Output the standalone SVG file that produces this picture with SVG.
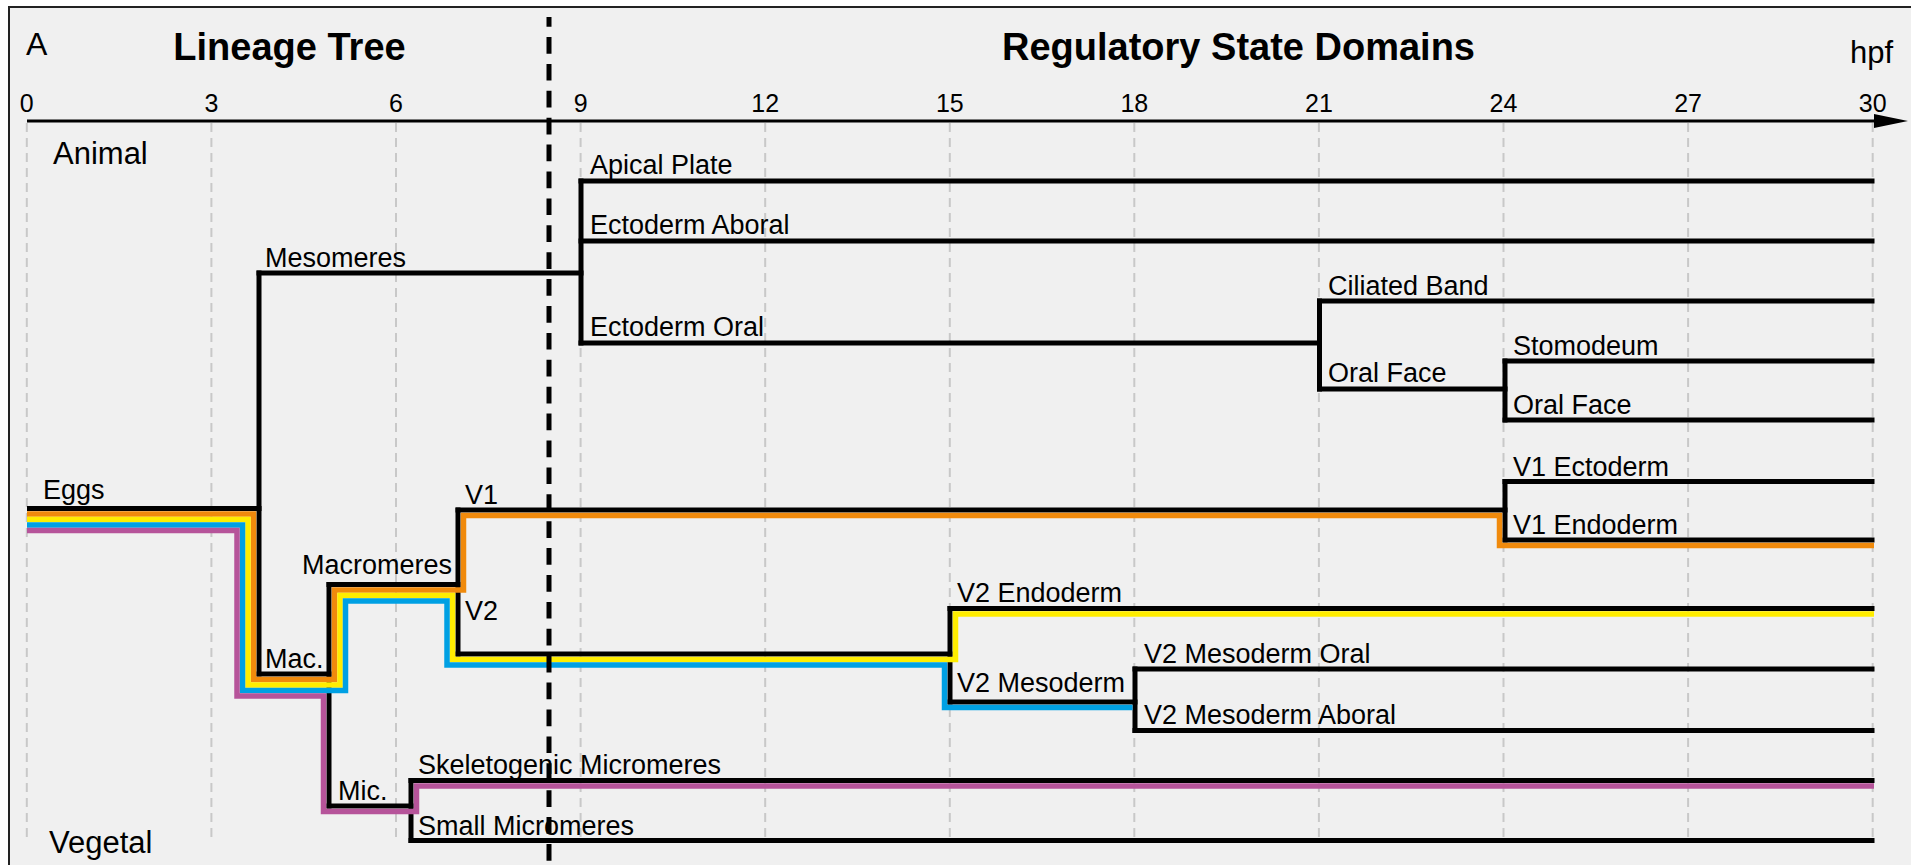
<svg xmlns="http://www.w3.org/2000/svg" width="1911" height="865" viewBox="0 0 1911 865">
<style>
.grid{stroke:#c8c8c8;stroke-width:2;stroke-dasharray:9 6;fill:none}
.br{stroke:#000;stroke-width:5;stroke-linecap:square;fill:none}
.hl{fill:none;stroke-width:5.5;stroke-linejoin:miter;stroke-linecap:butt}
text{font-family:"Liberation Sans",Arial,Helvetica,sans-serif;fill:#000}
.lbl{font-size:27px}
.tick{font-size:25px;text-anchor:middle}
.title{font-size:38px;font-weight:bold;text-anchor:middle}
.big{font-size:31px}
.panel{font-size:32px}
</style>
<defs>
<marker id="arrow" markerWidth="34" markerHeight="14" refX="0" refY="7" orient="auto" markerUnits="userSpaceOnUse">
<polygon points="0,0 34,7 0,14" fill="#000"/>
</marker>
</defs>
<rect x="0" y="0" width="1911" height="865" fill="#fff"/>
<rect x="9" y="7" width="1920" height="900" fill="#f0f0f0" stroke="#222" stroke-width="2"/>

<g id="grid">
<line class="grid" x1="26.8" y1="123" x2="26.8" y2="843"/>
<line class="grid" x1="211.4" y1="123" x2="211.4" y2="843"/>
<line class="grid" x1="396" y1="123" x2="396" y2="843"/>
<line class="grid" x1="580.6" y1="123" x2="580.6" y2="843"/>
<line class="grid" x1="765.2" y1="123" x2="765.2" y2="843"/>
<line class="grid" x1="949.8" y1="123" x2="949.8" y2="843"/>
<line class="grid" x1="1134.3" y1="123" x2="1134.3" y2="843"/>
<line class="grid" x1="1318.9" y1="123" x2="1318.9" y2="843"/>
<line class="grid" x1="1503.5" y1="123" x2="1503.5" y2="843"/>
<line class="grid" x1="1688.1" y1="123" x2="1688.1" y2="843"/>
<line class="grid" x1="1872.7" y1="123" x2="1872.7" y2="843"/>
</g>

<g id="axis">
<line x1="27" y1="121" x2="1874" y2="121" stroke="#000" stroke-width="3" marker-end="url(#arrow)"/>
<text class="tick" x="26.8" y="112">0</text>
<text class="tick" x="211.4" y="112">3</text>
<text class="tick" x="396" y="112">6</text>
<text class="tick" x="580.6" y="112">9</text>
<text class="tick" x="765.2" y="112">12</text>
<text class="tick" x="949.8" y="112">15</text>
<text class="tick" x="1134.3" y="112">18</text>
<text class="tick" x="1318.9" y="112">21</text>
<text class="tick" x="1503.5" y="112">24</text>
<text class="tick" x="1688.1" y="112">27</text>
<text class="tick" x="1872.7" y="112">30</text>
<text class="big" x="1850" y="63">hpf</text>
</g>

<g id="headings">
<text class="panel" x="26" y="55">A</text>
<text class="title" x="289.5" y="60">Lineage Tree</text>
<text class="title" x="1238.5" y="60">Regulatory State Domains</text>
<text class="big" x="53" y="164">Animal</text>
<text class="big" x="49" y="853">Vegetal</text>
</g>

<g id="connectors">
<line class="br" x1="259" y1="273" x2="259" y2="674"/>
<line class="br" x1="581" y1="181" x2="581" y2="343"/>
<line class="br" x1="1319.5" y1="301" x2="1319.5" y2="389"/>
<line class="br" x1="1505" y1="361" x2="1505" y2="420"/>
<line class="br" x1="1505" y1="481.5" x2="1505" y2="540"/>
<line class="br" x1="329" y1="584.5" x2="329" y2="806"/>
<line class="br" x1="458" y1="510" x2="458" y2="654"/>
<line class="br" x1="950" y1="608.5" x2="950" y2="702"/>
<line class="br" x1="1135" y1="669" x2="1135" y2="730.5"/>
<line class="br" x1="411" y1="780.5" x2="411" y2="840.5"/>
</g>

<g id="node-eggs"><line class="br" x1="29.5" y1="508.5" x2="259" y2="508.5"/><text class="lbl" x="43" y="499">Eggs</text></g>
<g id="node-mesomeres"><line class="br" x1="259" y1="273" x2="581" y2="273"/><text class="lbl" x="265" y="266.5">Mesomeres</text></g>
<g id="node-apical-plate"><line class="br" x1="581" y1="181" x2="1872" y2="181"/><text class="lbl" x="590" y="174">Apical Plate</text></g>
<g id="node-ectoderm-aboral"><line class="br" x1="581" y1="241" x2="1872" y2="241"/><text class="lbl" x="590" y="234">Ectoderm Aboral</text></g>
<g id="node-ectoderm-oral"><line class="br" x1="581" y1="343" x2="1319.5" y2="343"/><text class="lbl" x="590" y="336">Ectoderm Oral</text></g>
<g id="node-ciliated-band"><line class="br" x1="1319.5" y1="301" x2="1872" y2="301"/><text class="lbl" x="1328" y="294.5">Ciliated Band</text></g>
<g id="node-oral-face-1"><line class="br" x1="1319.5" y1="389" x2="1505" y2="389"/><text class="lbl" x="1328" y="382">Oral Face</text></g>
<g id="node-stomodeum"><line class="br" x1="1505" y1="361" x2="1872" y2="361"/><text class="lbl" x="1513" y="355">Stomodeum</text></g>
<g id="node-oral-face-2"><line class="br" x1="1505" y1="420" x2="1872" y2="420"/><text class="lbl" x="1513" y="413.5">Oral Face</text></g>
<g id="node-mac"><line class="br" x1="259" y1="674" x2="329" y2="674"/><text class="lbl" x="265" y="668">Mac.</text></g>
<g id="node-macromeres"><line class="br" x1="329" y1="584.5" x2="458" y2="584.5"/><text class="lbl" x="302" y="574">Macromeres</text></g>
<g id="node-v1"><line class="br" x1="458" y1="510" x2="1505" y2="510"/><text class="lbl" x="465" y="504">V1</text></g>
<g id="node-v1-ectoderm"><line class="br" x1="1505" y1="481.5" x2="1872" y2="481.5"/><text class="lbl" x="1513" y="475.5">V1 Ectoderm</text></g>
<g id="node-v1-endoderm"><line class="br" x1="1505" y1="540" x2="1872" y2="540"/><text class="lbl" x="1513" y="534">V1 Endoderm</text></g>
<g id="node-v2"><line class="br" x1="458" y1="654" x2="950" y2="654"/><text class="lbl" x="465" y="620">V2</text></g>
<g id="node-v2-endoderm"><line class="br" x1="950" y1="608.5" x2="1872" y2="608.5"/><text class="lbl" x="957" y="602">V2 Endoderm</text></g>
<g id="node-v2-mesoderm"><line class="br" x1="950" y1="702" x2="1135" y2="702"/><text class="lbl" x="957" y="692">V2 Mesoderm</text></g>
<g id="node-v2-mesoderm-oral"><line class="br" x1="1135" y1="669" x2="1872" y2="669"/><text class="lbl" x="1144" y="663">V2 Mesoderm Oral</text></g>
<g id="node-v2-mesoderm-aboral"><line class="br" x1="1135" y1="730.5" x2="1872" y2="730.5"/><text class="lbl" x="1144" y="724">V2 Mesoderm Aboral</text></g>
<g id="node-mic"><line class="br" x1="329" y1="806" x2="411" y2="806"/><text class="lbl" x="338" y="800">Mic.</text></g>
<g id="node-skeletogenic"><line class="br" x1="411" y1="780.5" x2="1872" y2="780.5"/><text class="lbl" x="418" y="773.5">Skeletogenic Micromeres</text></g>
<g id="node-small-micromeres"><line class="br" x1="411" y1="840.5" x2="1872" y2="840.5"/><text class="lbl" x="418" y="834.5">Small Micromeres</text></g>

<g id="lineage-highlights">
<path class="hl" stroke="#f08a0c" d="M27,514 H253.5 V679.5 H334.5 V590 H463.5 V515.5 H1499.5 V545.5 H1874"/>
<path class="hl" stroke="#ffed00" d="M27,519.5 H248 V685 H340 V595.5 H452.5 V659.5 H955.5 V614 H1874"/>
<path class="hl" stroke="#00a0e3" d="M27,525 H242.5 V690.5 H345.5 V601 H447 V665 H944.5 V707.5 H1132.5"/>
<path class="hl" stroke="#b6549a" d="M27,530.5 H237 V696 H323.5 V811.5 H416.5 V786 H1874"/>
</g>

<line id="divider" x1="549" y1="17" x2="549" y2="865" stroke="#000" stroke-width="5" stroke-dasharray="16.7 10.2" stroke-dashoffset="6.9"/>
</svg>
